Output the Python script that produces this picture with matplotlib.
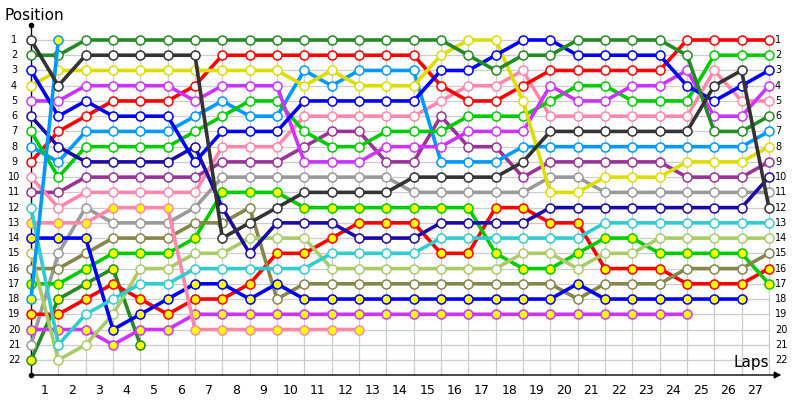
import matplotlib
matplotlib.use("Agg")
import matplotlib.pyplot as plt

# ---------------------------------------------------------------------------
# Data: position of each car at the end of each lap (index 0 = grid)
# ---------------------------------------------------------------------------
N_LAPS = 27
N_POS = 22

BLACK = [1, 4, 2, 2, 2, 2, 2, 14, 13, 12, 11, 11, 11, 11, 10, 10, 10, 10, 9, 7, 7, 7, 7, 7, 7, 4, 3, 12]
FOREST = [2, 2, 1, 1, 1, 1, 1, 1, 1, 1, 1, 1, 1, 1, 1, 1, 2, 3, 2, 2, 1, 1, 1, 1, 2, 7, 7, 6]
BLUE = [3, 6, 5, 6, 6, 6, 9, 7, 7, 7, 5, 5, 5, 5, 5, 3, 3, 2, 1, 1, 2, 2, 2, 2, 4, 5, 4, 3]
YELLOW = [4, 3, 3, 3, 3, 3, 3, 3, 3, 3, 4, 3, 4, 4, 4, 2, 1, 1, 5, 11, 11, 10, 10, 10, 9, 9, 9, 8]
VIOLET = [5, 5, 4, 4, 4, 4, 5, 4, 4, 4, 9, 9, 9, 8, 8, 8, 7, 7, 7, 4, 5, 5, 4, 4, 3, 6, 6, 4]
NAVY = [6, 8, 9, 9, 9, 9, 8, 12, 15, 13, 13, 13, 14, 14, 14, 13, 13, 13, 13, 12, 12, 12, 12, 12, 12, 12, 12, 10]
GREEN = [7, 10, 8, 8, 8, 8, 7, 6, 5, 5, 7, 8, 8, 7, 7, 7, 6, 6, 6, 5, 4, 4, 5, 5, 5, 2, 2, 2]
LIGHTBLUE = [8, 9, 7, 7, 7, 7, 6, 5, 6, 6, 3, 4, 3, 3, 3, 9, 9, 9, 8, 8, 8, 8, 8, 8, 8, 8, 8, 7]
RED = [9, 7, 6, 5, 5, 5, 4, 2, 2, 2, 2, 2, 2, 2, 2, 4, 5, 5, 4, 3, 3, 3, 3, 3, 1, 1, 1, 1]
PINK = [10, 12, 11, 11, 11, 11, 11, 8, 8, 8, 6, 6, 6, 6, 6, 5, 4, 4, 3, 6, 6, 6, 6, 6, 6, 3, 5, 5]
PURPLE = [11, 11, 10, 10, 10, 10, 10, 9, 9, 9, 8, 7, 7, 9, 9, 6, 8, 8, 10, 9, 9, 9, 9, 9, 10, 10, 10, 9]
CYAN = [12, 21, 19, 18, 17, 17, 16, 16, 16, 16, 16, 15, 15, 15, 15, 14, 14, 14, 14, 14, 14, 13, 13, 13, 13, 13, 13, 13]
PINK_B = [13, 13, 13, 12, 12, 12, 20, 20, 20, 20, 20, 20, 20]
BLUE_B = [14, 14, 14, 20, 19, 18, 17, 17, 18, 17, 18, 18, 18, 18, 18, 18, 18, 18, 18, 18, 17, 18, 18, 18, 18, 18, 18]
LIGHTOLIVE = [15, 22, 21, 19, 16, 16, 15, 15, 14, 14, 14, 16, 16, 16, 16, 16, 16, 16, 15, 15, 16, 15, 15, 14, 14, 14, 14, 14]
OLIVE = [16, 16, 15, 14, 14, 14, 13, 13, 12, 18, 17, 17, 17, 17, 17, 17, 17, 17, 17, 17, 18, 17, 17, 17, 16, 16, 16, 15]
GREEN_B = [17, 17, 16, 15, 15, 15, 14, 11, 11, 11, 12, 12, 12, 12, 12, 12, 12, 15, 16, 16, 15, 14, 14, 15, 15, 15, 15, 17]
LIGHTBLUE_B = [18, 1]
RED_B = [19, 19, 18, 17, 18, 19, 18, 18, 17, 15, 15, 14, 13, 13, 13, 15, 15, 12, 12, 13, 13, 16, 16, 16, 17, 17, 17, 16]
VIOLET_B = [20, 20, 20, 21, 20, 20, 19, 19, 19, 19, 19, 19, 19, 19, 19, 19, 19, 19, 19, 19, 19, 19, 19, 19, 19]
GREY = [21, 15, 12, 13, 13, 13, 12, 10, 10, 10, 10, 10, 10, 10, 11, 11, 11, 11, 11, 10, 10, 11, 11, 11, 11, 11, 11, 11]
FOREST_B = [22, 18, 17, 16, 21]

# (positions, line colour, marker fill)
WHITE = "#ffffff"
YFILL = "#ffff00"
SERIES = [
    (FOREST_B, "#228b22", YFILL),
    (GREY, "#9a9a9a", WHITE),
    (VIOLET_B, "#cc33ff", YFILL),
    (RED_B, "#ff0000", YFILL),
    (GREEN_B, "#00cc00", YFILL),
    (OLIVE, "#86864a", WHITE),
    (LIGHTOLIVE, "#aacc66", WHITE),
    (BLUE_B, "#0000ff", YFILL),
    (PINK_B, "#ff88aa", YFILL),
    (CYAN, "#33cccc", WHITE),
    (PURPLE, "#993399", WHITE),
    (PINK, "#ff88aa", WHITE),
    (RED, "#ff0000", WHITE),
    (LIGHTBLUE, "#0099ff", WHITE),
    (GREEN, "#00cc00", WHITE),
    (NAVY, "#1a0aaa", WHITE),
    (VIOLET, "#cc33ff", WHITE),
    (YELLOW, "#dddd00", WHITE),
    (BLUE, "#0000ff", WHITE),
    (FOREST, "#228b22", WHITE),
    (LIGHTBLUE_B, "#0099ff", YFILL),
    (BLACK, "#333333", WHITE),
]

# ---------------------------------------------------------------------------
# Figure
# ---------------------------------------------------------------------------
fig = plt.figure(figsize=(8, 4), dpi=100)
ax = fig.add_axes([31 / 800, 25 / 400, 749 / 800, 350 / 400])

y_top = 1 - 15 / 15.24
y_bot = N_POS + 15 / 15.24
x_right = 749 / 27.33
ax.set_xlim(0, x_right)
ax.set_ylim(y_bot, y_top)

for s in ax.spines.values():
    s.set_visible(False)
ax.set_xticks([])
ax.set_yticks([])

# grid
grid_c = "#cccccc"
ax.hlines(range(1, N_POS + 1), 0, N_LAPS, color=grid_c, lw=0.9, zorder=0)
ax.vlines(range(0, N_LAPS + 1), 1, y_bot, color=grid_c, lw=0.9, zorder=0)

# axes lines
ax.plot([0, 0], [y_top, y_bot], color="black", lw=1, clip_on=False, zorder=1)
ax.plot([0, 0], [y_top, y_bot], "o", color="black", ms=3, clip_on=False, zorder=1)
ax.annotate("", xy=(x_right + 0.05, y_bot), xytext=(0, y_bot),
            arrowprops=dict(arrowstyle="-|>", color="black", lw=1,
                            mutation_scale=10, shrinkA=0, shrinkB=0),
            annotation_clip=False)

# lap chart lines
for z, (pos, col, fill) in enumerate(SERIES):
    ax.plot(range(len(pos)), pos, "-o", color=col, lw=2.6, ms=6.5,
            mfc=fill, mec=col, mew=1.1, zorder=2 + z, clip_on=False)

# labels
for p in range(1, N_POS + 1):
    ax.text(-0.62, p, str(p), ha="center", va="center", fontsize=7)
    ax.text(27.22, p, str(p), ha="left", va="center", fontsize=7)
for lap in range(1, N_LAPS + 1):
    ax.text(lap - 0.5, y_bot + 1.0, str(lap), ha="center", va="center", fontsize=9)

fig.text(5 / 800, 1 - 15 / 400, "Position", ha="left", va="center", fontsize=11)
ax.text(27.0, y_bot - 0.35, "Laps", ha="right", va="bottom", fontsize=11)

fig.savefig("out.png", dpi=100)
